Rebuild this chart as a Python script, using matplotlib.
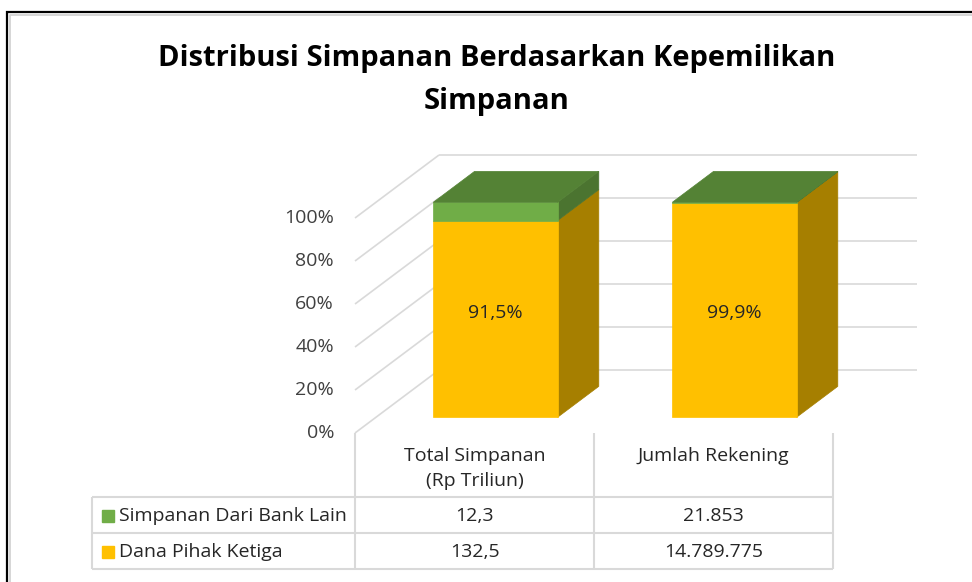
import matplotlib.pyplot as plt
from matplotlib.patches import Polygon

plt.rcParams['font.family'] = ['Open Sans', 'DejaVu Sans']

# data
categories = ['Total Simpanan\n(Rp Triliun)', 'Jumlah Rekening']
series_names = ['Simpanan Dari Bank Lain', 'Dana Pihak Ketiga']
bank_lain = [12.3, 21853]
dana_pihak_ketiga = [132.5, 14789775]
value_decimals = [1, 0]
y_ticks = [0, 20, 40, 60, 80, 100]

# colours: front, side, top
green = ('#70AD47', '#4B7430', '#548235')
yellow = ('#FFC000', '#A67F00', '#BF9000')

# layout: pixel mapping of the chart space
W, H = 972, 582
UNIT_PX = 239.0      # px per category
PCT_PX = 2.15        # px per percent
X0, Y0 = 474.5, 433  # px of category 0, 0%
DX = 84 / UNIT_PX    # depth offset in x units
DY = 63 / PCT_PX     # depth offset in percent units
BAR_W = 0.52
D0, D1 = 0.25, 0.74
FS = 14

fig = plt.figure(figsize=(W / 100, H / 100), dpi=100)

# layout axes in pixel coords (title, table, frame)
lay = fig.add_axes([0, 0, 1, 1])
lay.set_xlim(0, W)
lay.set_ylim(H, 0)
lay.axis('off')

# chart axes in data coords
ax = fig.add_axes([0, 0, 1, 1])
ax.set_xlim(-X0 / UNIT_PX, (W - X0) / UNIT_PX)
ax.set_ylim((Y0 - H) / PCT_PX, Y0 / PCT_PX)
ax.axis('off')
ax.patch.set_alpha(0)


def proj(x, y, d):
    return (x + d * DX, y + d * DY)


# walls: back gridlines and side diagonals
grid_kw = dict(color='#D9D9D9', lw=1.2, zorder=1, solid_capstyle='butt')
n = len(categories)
for t in y_ticks:
    a, b = proj(-0.5, t, 1), proj(n - 0.5, t, 1)
    ax.plot([a[0], b[0]], [a[1], b[1]], **grid_kw)
    c = proj(-0.5, t, 0)
    ax.plot([c[0], a[0]], [c[1], a[1]], **grid_kw)
    ax.text(-0.5 - 21 / UNIT_PX, t, f'{t}%', ha='right', va='center',
            fontsize=FS, color='#404040')

# 100% stacked 3D columns
totals = [a + b for a, b in zip(bank_lain, dana_pihak_ketiga)]
stack = [(dana_pihak_ketiga, yellow), (bank_lain, green)]
for i in range(n):
    bottom = 0
    xl, xr = i - BAR_W / 2, i + BAR_W / 2
    for k, (vals, col) in enumerate(stack):
        h = vals[i] / totals[i] * 100
        top = bottom + h
        side = [proj(xr, bottom, D0), proj(xr, bottom, D1),
                proj(xr, top, D1), proj(xr, top, D0)]
        ax.add_patch(Polygon(side, closed=True, fc=col[1], ec=col[1],
                             lw=0.5, zorder=3))
        ax.bar(i + D0 * DX, h, width=BAR_W, bottom=bottom + D0 * DY,
               color=col[0], ec=col[0], lw=0.5, zorder=4)
        if k == len(stack) - 1:
            lid = [proj(xl, top, D0), proj(xr, top, D0),
                   proj(xr, top, D1), proj(xl, top, D1)]
            ax.add_patch(Polygon(lid, closed=True, fc=col[2], ec=col[2],
                                 lw=0.5, zorder=5))
        if k == 0:
            lx, ly = proj(i, 48.5, D0)
            ax.text(lx, ly, f'{h:.1f}%'.replace('.', ','), ha='center',
                    va='center', fontsize=FS, color='#262626', zorder=6)
        bottom = top

# title
lay.text(497, 80, 'Distribusi Simpanan Berdasarkan Kepemilikan\nSimpanan',
         ha='center', va='center', fontsize=21, fontweight='bold',
         linespacing=1.65, color='black')

# data table
tab_kw = dict(color='#D9D9D9', lw=1.5, solid_capstyle='butt')
col_x = [X0 + (i - 0.5) * UNIT_PX for i in range(n + 1)]
row_y = [497, 533, 569]
left_x = 92
for y in row_y:
    lay.plot([left_x, col_x[-1]], [y, y], **tab_kw)
lay.plot([left_x, left_x], [row_y[0], row_y[-1]], **tab_kw)
for x in col_x:
    lay.plot([x, x], [Y0, row_y[-1]], **tab_kw)

for i, cat in enumerate(categories):
    lay.text(X0 + i * UNIT_PX, 447, cat, ha='center', va='top',
             fontsize=FS, color='#262626', linespacing=1.5)


def fmt(v, dec):
    if dec:
        return f'{v:.{dec}f}'.replace('.', ',')
    return f'{int(v):,}'.replace(',', '.')


rows = [(series_names[0], bank_lain, green[0]),
        (series_names[1], dana_pihak_ketiga, yellow[0])]
for r, (name, vals, c) in enumerate(rows):
    yc = (row_y[r] + row_y[r + 1]) / 2 + 1
    lay.plot([107.5], [yc], marker='s', ms=9, color=c, ls='none')
    lay.text(119, yc, name, ha='left', va='center', fontsize=FS,
             color='#262626')
    for i, v in enumerate(vals):
        lay.text(X0 + i * UNIT_PX, yc, fmt(v, value_decimals[i]),
                 ha='center', va='center', fontsize=FS, color='#262626')

# frame of the chart object
lay.plot([7, 7, W + 5], [H + 5, 12, 12], color='black', lw=1.6,
         solid_joinstyle='miter')
lay.plot([9.5, 9.5, W + 5], [H + 5, 14.5, 14.5], color='#D0D0D0', lw=1.2)

fig.savefig('out.png', dpi=100)
